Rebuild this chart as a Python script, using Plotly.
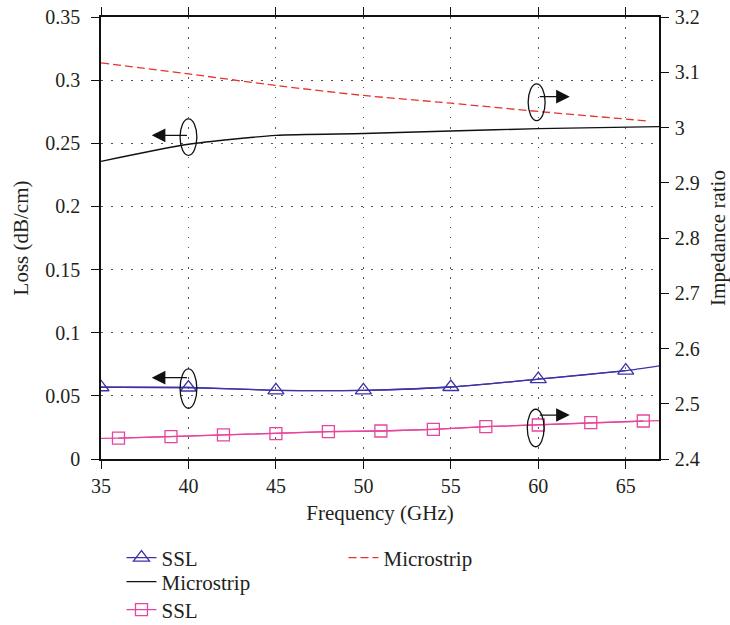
import plotly.graph_objects as go

# ---------------- data ----------------
# Loss (left axis), SSL, blue triangles
ssl_loss_freq = [35, 40, 45, 50, 55, 60, 65, 67]
ssl_loss = [0.0568, 0.0566, 0.0544, 0.0544, 0.0570, 0.0632, 0.0700, 0.0740]
ssl_loss_marker_idx = [0, 1, 2, 3, 4, 5, 6]

# Loss (left axis), Microstrip, black solid
ms_loss_freq = [35, 40, 45, 50, 55, 60, 67]
ms_loss = [0.2357, 0.2492, 0.2563, 0.2577, 0.2597, 0.2616, 0.2632]

# Impedance ratio (right axis), Microstrip, red dashed
ms_imp_freq = [35, 40, 45, 50, 55, 60, 66.2]
ms_imp = [3.117, 3.097, 3.076, 3.058, 3.044, 3.029, 3.012]

# Impedance ratio (right axis), SSL, pink squares
ssl_imp_freq = [35, 36, 39, 42, 45, 48, 51, 54, 57, 60, 63, 66, 67]
ssl_imp = [2.4375, 2.4378, 2.4404, 2.4435, 2.4458, 2.4495, 2.4507, 2.4537,
           2.4585, 2.4615, 2.4657, 2.4688, 2.4695]
ssl_imp_marker_idx = [1, 2, 3, 4, 5, 6, 7, 8, 9, 10, 11]

x_ticks = [35, 40, 45, 50, 55, 60, 65]
x_range = [35, 66.9]
loss_range = [0, 0.35]
imp_range = [2.4, 3.2]

BLUE = "#3d32a6"
PINK = "#e6459d"
RED = "#e5342f"
BLACK = "#111111"
TEXT = "#231f20"
FONT = "Liberation Serif"

fig = go.Figure()

# SSL loss: full line + legend trace with markers
fig.add_trace(go.Scatter(x=ssl_loss_freq, y=ssl_loss, mode="lines",
                         line=dict(color=BLUE, width=1.3, shape="spline", smoothing=0.6),
                         showlegend=False, hoverinfo="skip"))
fig.add_trace(go.Scatter(x=[ssl_loss_freq[i] for i in ssl_loss_marker_idx],
                         y=[ssl_loss[i] for i in ssl_loss_marker_idx],
                         mode="lines+markers", name="SSL",
                         line=dict(color=BLUE, width=1.3, shape="spline", smoothing=0.6),
                         marker=dict(symbol="triangle-up-open", size=14,
                                     color=BLUE, line=dict(width=1.3, color=BLUE)),
                         legend="legend"))

# Microstrip loss
fig.add_trace(go.Scatter(x=ms_loss_freq, y=ms_loss, mode="lines", name="Microstrip",
                         line=dict(color=BLACK, width=1.4, shape="spline", smoothing=0.6),
                         legend="legend3"))

# SSL impedance: full line + legend trace with markers
fig.add_trace(go.Scatter(x=ssl_imp_freq, y=ssl_imp, mode="lines", yaxis="y2",
                         line=dict(color=PINK, width=1.3),
                         showlegend=False, hoverinfo="skip"))
fig.add_trace(go.Scatter(x=[ssl_imp_freq[i] for i in ssl_imp_marker_idx],
                         y=[ssl_imp[i] for i in ssl_imp_marker_idx],
                         mode="lines+markers", name="SSL", yaxis="y2",
                         line=dict(color=PINK, width=1.3),
                         marker=dict(symbol="square-open", size=12,
                                     color=PINK, line=dict(width=1.3, color=PINK)),
                         legend="legend4"))

# Microstrip impedance
fig.add_trace(go.Scatter(x=ms_imp_freq, y=ms_imp, mode="lines", name="Microstrip",
                         yaxis="y2",
                         line=dict(color=RED, width=1.3, dash="8px,4px", shape="spline",
                                   smoothing=0.6),
                         legend="legend2"))

# ---------------- annotations: ellipses + arrows ----------------
ellipses = [  # (x0, x1, y0, y1) in x / left-axis units
    (39.52, 40.48, 0.2405, 0.2693),
    (59.42, 60.39, 0.2679, 0.2970),
    (39.52, 40.48, 0.0401, 0.0713),
    (59.37, 60.33, 0.0097, 0.0394),
]
for x0, x1, y0, y1 in ellipses:
    fig.add_shape(type="circle", xref="x", yref="y", x0=x0, x1=x1, y0=y0, y1=y1,
                  line=dict(color=BLACK, width=1.3))

arrows = [  # (tail_x, head_x, y)
    (40, 37.9, 0.2563),
    (60, 61.8, 0.2869),
    (40, 37.9, 0.0644),
    (60, 61.8, 0.0348),
]
for tx, hx, yy in arrows:
    fig.add_annotation(x=hx, y=yy, ax=tx, ay=yy, xref="x", yref="y", axref="x", ayref="y",
                       text="", showarrow=True, arrowhead=2, arrowsize=2.1,
                       arrowwidth=1.3, arrowcolor=BLACK)

tickfont = dict(family=FONT, size=20, color=TEXT)
titlefont = dict(family=FONT, size=21, color=TEXT)
legfont = dict(family=FONT, size=21, color=TEXT)


def leg(x, y):
    return dict(x=x, y=y, xref="paper", yref="paper",
                xanchor="left", yanchor="middle",
                bgcolor="rgba(0,0,0,0)", font=legfont, itemwidth=30)


fig.update_layout(
    width=730, height=625,
    margin=dict(l=101, r=71, t=17, b=166, autoexpand=False),
    paper_bgcolor="white", plot_bgcolor="white",
    font=dict(family=FONT, size=20, color=TEXT),
    xaxis=dict(range=x_range, tickvals=x_ticks, ticks="outside", ticklen=8,
               tickwidth=1.3, tickcolor=BLACK, showline=True, linecolor=BLACK,
               linewidth=1.5, mirror="ticks", showgrid=True, gridcolor="#555",
               gridwidth=1.2, griddash="1.5px,8.5px", zeroline=False,
               tickfont=tickfont,
               title=dict(text="Frequency (GHz)", font=titlefont, standoff=10)),
    yaxis=dict(range=loss_range, dtick=0.05, tick0=0, ticks="outside", ticklen=8,
               tickwidth=1.3, tickcolor=BLACK, showline=True, linecolor=BLACK,
               linewidth=1.5, showgrid=True, gridcolor="#555", gridwidth=1.2,
               griddash="1.5px,8.5px", zeroline=False, tickfont=tickfont,
               ticklabelstandoff=7,
               title=dict(text="Loss (dB/cm)", font=titlefont, standoff=11)),
    yaxis2=dict(range=imp_range, dtick=0.1, tick0=2.4, overlaying="y", side="right",
                ticks="outside", ticklen=8, tickwidth=1.3, tickcolor=BLACK,
                showline=True, linecolor=BLACK, linewidth=1.5, showgrid=False,
                zeroline=False, tickfont=tickfont, ticklabelstandoff=2,
                title=dict(text="Impedance ratio", font=titlefont, standoff=18)),
    legend=leg(0.0367, -0.224),
    legend3=leg(0.0367, -0.2783),
    legend4=leg(0.0367, -0.3416),
    legend2=leg(0.4346, -0.224),
    showlegend=True,
)

fig.write_html("out.html")
